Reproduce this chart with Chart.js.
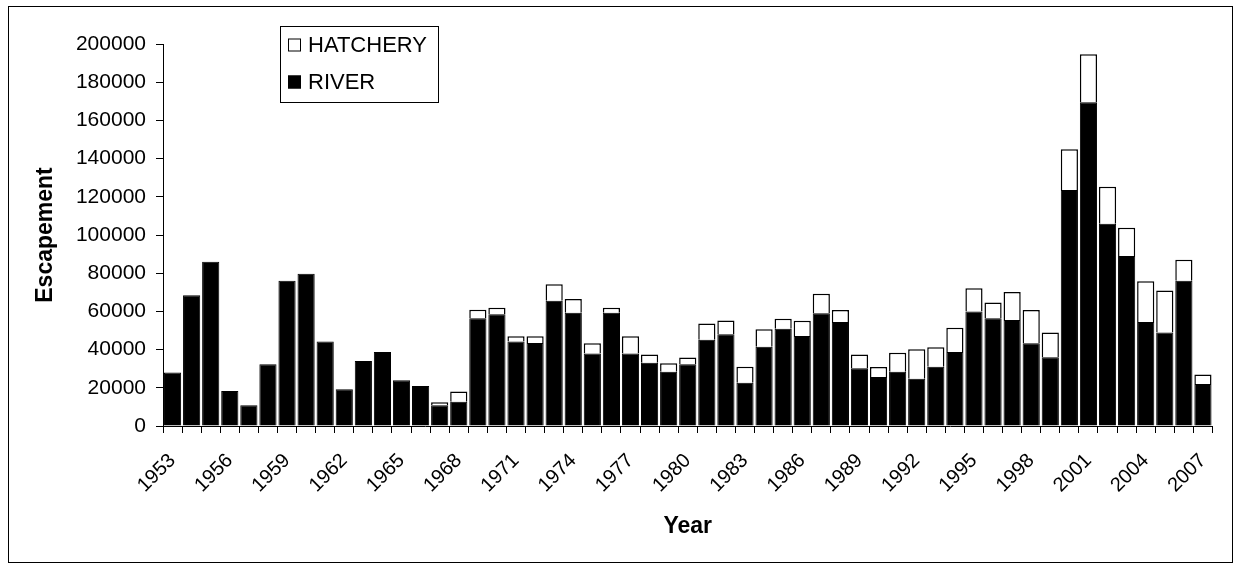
<!DOCTYPE html>
<html>
<head>
<meta charset="utf-8">
<script src="https://cdn.jsdelivr.net/npm/chart.js@4"></script>
<style>
  html, body { margin: 0; padding: 0; background: #fff; }
</style>
</head>
<body>
<canvas id="chart" width="1236" height="565"></canvas>
<script>
const years = [
  '1953', '1954', '1955', '1956', '1957', '1958', '1959', '1960', '1961', '1962',
  '1963', '1964', '1965', '1966', '1967', '1968', '1969', '1970', '1971', '1972',
  '1973', '1974', '1975', '1976', '1977', '1978', '1979', '1980', '1981', '1982',
  '1983', '1984', '1985', '1986', '1987', '1988', '1989', '1990', '1991', '1992',
  '1993', '1994', '1995', '1996', '1997', '1998', '1999', '2000', '2001', '2002',
  '2003', '2004', '2005', '2006', '2007'
];

const river = [
  28000, 68500, 86000, 18300, 10800, 32300, 76000, 79700, 44300, 19200,
  34000, 38700, 23900, 20900, 10800, 12700, 56400, 58500, 44300, 43500,
  65600, 59300, 37900, 59300, 37900, 33100, 28400, 32300, 45200, 48000,
  22700, 41500, 50900, 47100, 59000, 54500, 30200, 25700, 28400, 24800,
  31000, 38700, 60000, 56400, 55500, 43300, 36000, 123600, 169500, 105900,
  89000, 54500, 48900, 76000, 22000
];

const hatchery = [
  0, 0, 0, 0, 0, 0, 0, 0, 0, 0,
  0, 0, 0, 0, 1700, 5400, 4500, 3400, 2700, 3500,
  8600, 7200, 5400, 2600, 9100, 4400, 4400, 3500, 8400, 7300,
  8300, 9100, 5300, 8000, 10300, 6200, 7300, 5200, 10000, 15400,
  10200, 12800, 12100, 8200, 14700, 17400, 12900, 21300, 25100, 19400,
  14800, 21300, 22100, 11000, 5000
];

const labelEvery = 3;
const FONT = "'Liberation Sans', Arial, sans-serif";

// outer frame + legend box drawn straight on the canvas
const framePlugin = {
  id: 'frame',
  afterDraw(chart) {
    const ctx = chart.ctx;
    ctx.save();
    ctx.strokeStyle = '#000';
    ctx.lineWidth = 1;
    ctx.strokeRect(8.5, 6.5, 1224, 556);

    // legend
    ctx.strokeRect(280.5, 26.5, 158, 76);
    const items = [chart.data.datasets[1], chart.data.datasets[0]];
    const rows = [45, 82];
    ctx.font = '22px ' + FONT;
    ctx.textBaseline = 'middle';
    ctx.textAlign = 'left';
    items.forEach((ds, i) => {
      const y = rows[i];
      ctx.fillStyle = ds.backgroundColor;
      ctx.fillRect(288, y - 6.5, 13, 13);
      ctx.strokeStyle = '#000';
      ctx.lineWidth = 1;
      ctx.strokeRect(288.5, y - 6, 12, 12);
      ctx.fillStyle = '#000';
      ctx.fillText(ds.label, 308, y + 1);
    });
    ctx.restore();
  }
};

new Chart(document.getElementById('chart'), {
  type: 'bar',
  data: {
    labels: years,
    datasets: [{
      label: 'RIVER',
      data: river,
      backgroundColor: '#000',
      borderColor: '#000',
      borderWidth: 1
    }, {
      label: 'HATCHERY',
      data: hatchery,
      backgroundColor: '#fff',
      borderColor: '#000',
      borderWidth: 1.5
    }]
  },
  options: {
    responsive: false,
    animation: false,
    layout: { padding: { top: 44, right: 9, left: 0, bottom: 0 } },
    plugins: {
      legend: { display: false },
      tooltip: { enabled: false }
    },
    datasets: {
      bar: { categoryPercentage: 1, barPercentage: 0.9 }
    },
    scales: {
      x: {
        stacked: true,
        offset: true,
        grid: { display: true, offset: true, drawOnChartArea: false, drawTicks: true, tickLength: 7, color: '#000' },
        border: { color: '#000' },
        ticks: {
          autoSkip: false,
          minRotation: 45,
          maxRotation: 45,
          padding: 16,
          color: '#000',
          font: { family: FONT, size: 20 },
          callback: function (val, i) {
            return i % labelEvery === 0 ? this.getLabelForValue(val) : '';
          }
        },
        title: {
          display: true,
          text: 'Year',
          color: '#000',
          font: { family: FONT, size: 23, weight: 'bold' },
          padding: { top: 0, bottom: 25 }
        },
        afterFit(scale) { scale.height = 139; }
      },
      y: {
        stacked: true,
        min: 0,
        max: 200000,
        grid: { display: true, drawOnChartArea: false, drawTicks: true, tickLength: 7, color: '#000' },
        border: { color: '#000' },
        ticks: {
          stepSize: 20000,
          padding: 10,
          color: '#000',
          font: { family: FONT, size: 21 },
          callback: v => String(v)
        },
        title: {
          display: true,
          text: 'Escapement',
          color: '#000',
          font: { family: FONT, size: 23, weight: 'bold' },
          padding: { top: 32, bottom: 0 }
        },
        afterFit(scale) { scale.width = 163; }
      }
    }
  },
  plugins: [framePlugin]
});
</script>
</body>
</html>
